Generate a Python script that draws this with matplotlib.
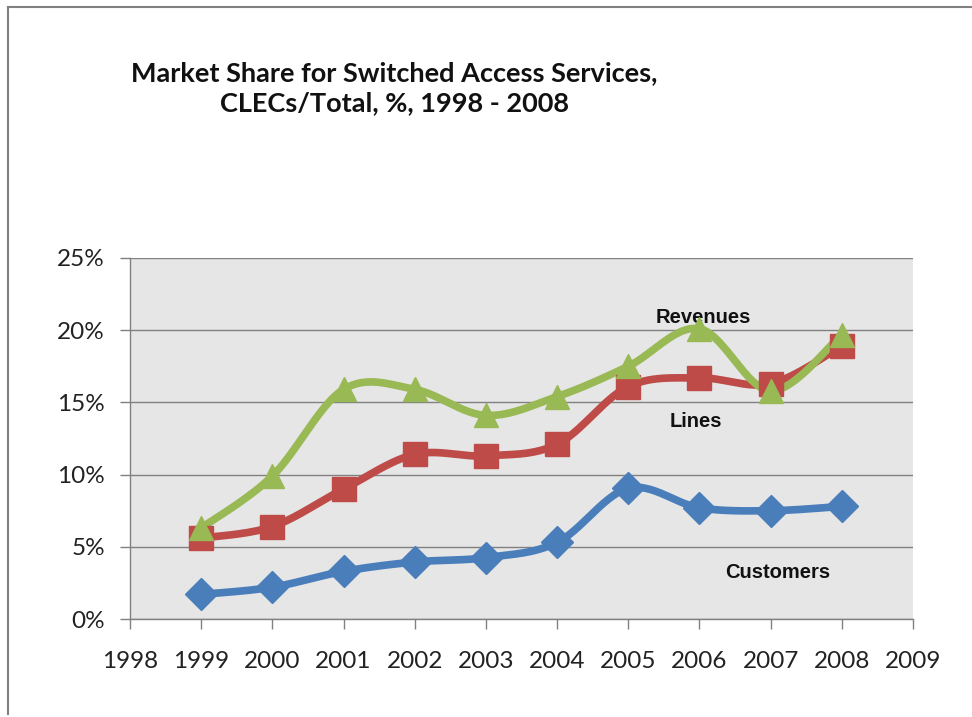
import numpy as np
import matplotlib
matplotlib.use("Agg")
import matplotlib.pyplot as plt
from matplotlib.lines import Line2D

years = [1999, 2000, 2001, 2002, 2003, 2004, 2005, 2006, 2007, 2008]
customers = [1.7, 2.2, 3.3, 3.95, 4.25, 5.3, 9.05, 7.7, 7.5, 7.8]
lines = [5.6, 6.4, 9.0, 11.4, 11.3, 12.1, 16.1, 16.7, 16.3, 18.9]
revenues = [6.3, 9.9, 15.9, 15.9, 14.1, 15.4, 17.5, 20.1, 15.8, 19.7]
x_ticks = list(range(1998, 2010))
y_ticks = [0, 5, 10, 15, 20, 25]
y_labels = ["0%", "5%", "10%", "15%", "20%", "25%"]
title = "Market Share for Switched Access Services,\nCLECs/Total, %, 1998 - 2008"

C_BLUE = "#4A7EBB"
C_RED = "#BE4B48"
C_GREEN = "#98B954"


def smooth(xs, ys, n=30):
    xs = np.asarray(xs, float)
    ys = np.asarray(ys, float)
    px = np.concatenate([[xs[0]], xs, [xs[-1]]])
    py = np.concatenate([[ys[0]], ys, [ys[-1]]])
    outx, outy = [], []
    t = np.linspace(0, 1, n)
    for i in range(1, len(px) - 2):
        p0 = np.array([px[i], py[i]])
        p3 = np.array([px[i + 1], py[i + 1]])
        p1 = p0 + (np.array([px[i + 1], py[i + 1]]) - np.array([px[i - 1], py[i - 1]])) / 6
        p2 = p3 - (np.array([px[i + 2], py[i + 2]]) - np.array([px[i], py[i]])) / 6
        b = ((1 - t) ** 3)[:, None] * p0 + (3 * (1 - t) ** 2 * t)[:, None] * p1 \
            + (3 * (1 - t) * t ** 2)[:, None] * p2 + (t ** 3)[:, None] * p3
        outx.extend(b[:, 0])
        outy.extend(b[:, 1])
    return outx, outy


fig = plt.figure(figsize=(9.72, 7.17), dpi=100)
ax = fig.add_axes([130 / 972, 1 - 619 / 717, (913 - 130) / 972, (619 - 258) / 717])
ax.set_facecolor("#E6E6E6")

# figure border
fig.add_artist(Line2D([8 / 972, 8 / 972], [1 - 7 / 717, 1 - 714 / 717], color="#808080", lw=1.5,
                      transform=fig.transFigure))
fig.add_artist(Line2D([8 / 972, 1.0], [1 - 7 / 717, 1 - 7 / 717], color="#808080", lw=1.5,
                      transform=fig.transFigure))

for ys, col, mk, ms in [(customers, C_BLUE, "D", 16), (lines, C_RED, "s", 17), (revenues, C_GREEN, "^", 17)]:
    sx, sy = smooth(years, ys)
    ax.plot(sx, sy, color=col, lw=5.5, solid_capstyle="round", zorder=3)
    ax.plot(years, ys, linestyle="none", marker=mk, markersize=ms, color=col, zorder=4)

ax.set_xlim(1998, 2009)
ax.set_ylim(0, 25)
ax.set_xticks(x_ticks)
ax.set_xticklabels([str(v) for v in x_ticks])
ax.set_yticks(y_ticks)
ax.set_yticklabels(y_labels)
ax.grid(axis="y", color="#808080", lw=1)
ax.set_axisbelow(True)
for s in ["top", "right"]:
    ax.spines[s].set_visible(False)
for s in ["left", "bottom"]:
    ax.spines[s].set_color("#808080")
    ax.spines[s].set_linewidth(1)
ax.tick_params(axis="both", direction="out", length=7, color="#808080", width=1,
               labelsize=17.5, labelcolor="#222222")
ax.tick_params(axis="x", pad=16)
ax.tick_params(axis="y", pad=11)
for lab in ax.get_xticklabels() + ax.get_yticklabels():
    lab.set_family("Lato")

fig.text(394 / 972, 1 - 88 / 717, title, ha="center", va="center", fontsize=19.5,
         fontweight="bold", family="Lato", linespacing=1.3, color="#111111")

ann = dict(fontsize=14.5, fontweight="bold", family="Liberation Sans", ha="center", va="center", color="#111111")
ax.text(2006.05, 20.9, "Revenues", **ann)
ax.text(2005.95, 13.7, "Lines", **ann)
ax.text(2007.1, 3.2, "Customers", **ann)

fig.savefig("out.png", dpi=100)
